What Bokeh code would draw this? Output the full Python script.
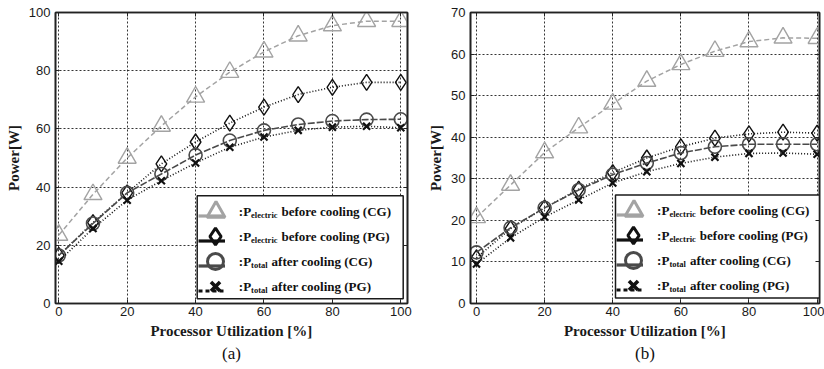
from bokeh.plotting import figure
from bokeh.models import (Range1d, FixedTicker, LinearAxis, Legend, LegendItem,
                          Label, Title, ColumnDataSource, BoxAnnotation)
from bokeh.layouts import row
from bokeh.core.properties import value
from bokeh.embed import file_html
from bokeh.resources import INLINE

# ---------------- data ----------------
util = [0, 10, 20, 30, 40, 50, 60, 70, 80, 90, 100]

a_elec_cg = [23.5, 37.5, 50.0, 61.0, 71.0, 79.5, 86.5, 92.0, 95.5, 97.0, 97.0]
a_elec_pg = [16.5, 27.8, 38.0, 48.0, 55.5, 62.0, 67.5, 71.8, 74.3, 76.0, 76.0]
a_total_cg = [16.5, 27.5, 38.0, 44.5, 51.0, 56.0, 59.5, 61.5, 62.7, 63.2, 63.3]
a_total_pg = [14.5, 25.8, 35.5, 42.2, 48.3, 53.7, 57.2, 59.5, 60.6, 60.9, 60.4]

b_elec_cg = [20.7, 28.5, 36.3, 42.3, 48.0, 53.5, 57.5, 60.7, 63.0, 63.9, 63.8]
b_elec_pg = [11.0, 18.0, 23.0, 27.5, 31.5, 35.0, 37.7, 39.8, 40.8, 41.2, 41.0]
b_total_cg = [12.3, 18.2, 23.0, 27.3, 31.0, 33.8, 36.2, 37.7, 38.3, 38.3, 38.3]
b_total_pg = [9.5, 15.8, 20.8, 24.9, 29.0, 31.7, 33.7, 35.2, 36.1, 36.2, 35.9]

x_ticks = [0, 20, 40, 60, 80, 100]
a_y_ticks = [0, 20, 40, 60, 80, 100]
b_y_ticks = [0, 10, 20, 30, 40, 50, 60, 70]

legend_main = ["before cooling (CG)", "before cooling (PG)",
               "after cooling (CG)", "after cooling (PG)"]
legend_sub = ["electric", "electric", "total", "total"]

# ---------------- styles ----------------
SERIF = "Liberation Serif"
SANS = "Liberation Sans"
C_TRI = "#a3a3a3"
C_DIA = "#111111"
C_CIR = "#4a4a4a"
C_X = "#111111"

series_style = [
    dict(marker="triangle", color=C_TRI, dash="5 3", lw=1.5, size=18, mlw=1.4,
         leg_box=45, leg_dash="solid", leg_mlw=3.0),
    dict(marker="diamond", color=C_DIA, dash="1 2", lw=1.6, size=16, mlw=1.4,
         leg_box=42, leg_dash="solid", leg_mlw=3.0),
    dict(marker="circle", color=C_CIR, dash="7 2", lw=1.6, size=13, mlw=1.6,
         leg_box=40, leg_dash="solid", leg_mlw=3.0),
    dict(marker="x", color=C_X, dash="1 2", lw=1.6, size=10, mlw=2.2,
         leg_box=32, leg_dash="4 3", leg_mlw=3.6),
]


def make_panel(series, y_max, y_ticks, x_start, x_end, width, border_left,
               border_right, tag, box_left, box_bottom):
    p = figure(width=width, height=369, output_backend="svg",
               toolbar_location=None,
               x_range=Range1d(x_start, x_end), y_range=Range1d(0, y_max),
               min_border_left=border_left, min_border_right=border_right,
               min_border_top=12, min_border_bottom=66)
    p.background_fill_color = "white"
    p.border_fill_color = "white"
    p.outline_line_color = "#222222"
    p.outline_line_width = 1.6

    # axes
    for ax in (p.xaxis[0], p.yaxis[0]):
        ax.axis_line_color = "#222222"
        ax.axis_line_width = 1.6
        ax.major_tick_in = 4
        ax.major_tick_out = 0
        ax.minor_tick_line_color = None
        ax.major_tick_line_color = "#222222"
        ax.major_label_text_font = SANS
        ax.major_label_text_font_size = "13px"
        ax.major_label_text_color = "#1a1a1a"
        ax.axis_label_text_font = SERIF
        ax.axis_label_text_font_style = "bold"
        ax.axis_label_text_font_size = "15px"
        ax.axis_label_text_color = "#1a1a1a"
    p.xaxis[0].ticker = FixedTicker(ticks=x_ticks)
    p.yaxis[0].ticker = FixedTicker(ticks=y_ticks)
    p.xaxis[0].axis_label = "Processor Utilization [%]"
    p.yaxis[0].axis_label = "Power[W]"
    p.xaxis[0].major_label_standoff = 3
    p.xaxis[0].axis_label_standoff = 4
    p.yaxis[0].major_label_standoff = 5
    p.yaxis[0].axis_label_standoff = 4

    # box ticks on right/top (no labels)
    for loc, tk in (("right", y_ticks), ("above", x_ticks)):
        ax = LinearAxis(ticker=FixedTicker(ticks=tk))
        ax.major_label_text_font_size = "1px"
        ax.major_label_text_color = None
        ax.major_label_standoff = 0
        ax.axis_label_standoff = 0
        ax.major_tick_in = 4
        ax.major_tick_out = 0
        ax.minor_tick_line_color = None
        ax.axis_line_color = "#222222"
        ax.axis_line_width = 1.6
        ax.major_tick_line_color = "#222222"
        p.add_layout(ax, loc)

    # grid
    p.xgrid.ticker = FixedTicker(ticks=x_ticks)
    p.ygrid.ticker = FixedTicker(ticks=y_ticks)
    for g in (p.xgrid[0], p.ygrid[0]):
        g.grid_line_color = "#111111"
        g.grid_line_dash = "2 2"
        g.grid_line_width = 1
        g.grid_line_alpha = 0.85

    # legend geometry (screen px, relative to the frame's bottom-left)
    box_w, box_h = 206, 103
    box_top = box_bottom + box_h
    row0 = box_top - 16          # centre of the first legend row
    pitch = 25
    glyph_cx = box_left + 18.3

    # white legend panel under the data, above the grid
    p.add_layout(BoxAnnotation(left=box_left, right=box_left + box_w,
                               bottom=box_bottom, top=box_top,
                               left_units="screen", right_units="screen",
                               top_units="screen", bottom_units="screen",
                               fill_color="white", fill_alpha=1.0,
                               line_color="#1a1a1a", line_width=1.5,
                               line_alpha=1.0, level="underlay"))

    # series
    for ys, st in zip(series, series_style):
        src = ColumnDataSource(dict(x=util, y=ys))
        p.line("x", "y", source=src, line_color=st["color"],
               line_width=st["lw"], line_dash=st["dash"])
        p.scatter("x", "y", source=src, marker=st["marker"], size=st["size"],
                  fill_color=None, line_color=st["color"],
                  line_width=st["mlw"])

    # ---- legend line samples (transparent legend) ----
    nan = float("nan")
    pad, gw, gh, sp, n = 4, 27, 21, pitch - 21, 4
    lines_h = 2 * pad + n * gh + (n - 1) * sp
    lines_top = row0 + pad + gh / 2
    line_items = []
    for st in series_style:
        dummy = ColumnDataSource(dict(x=[nan], y=[nan]))
        lr = p.line("x", "y", source=dummy, line_color=st["color"],
                    line_width=3.2, line_dash=st["leg_dash"])
        line_items.append(LegendItem(label=value(" "), renderers=[lr]))
    legend = Legend(items=line_items,
                    location=(glyph_cx - pad - gw / 2, lines_top - lines_h),
                    orientation="vertical", padding=pad, spacing=sp,
                    margin=0, glyph_width=gw, glyph_height=gh,
                    label_height=gh, label_width=0, label_standoff=0,
                    border_line_color=None, background_fill_alpha=0.0,
                    label_text_font_size="1px", label_text_color=None)
    p.add_layout(legend, "center")

    # ---- marker samples: one transparent legend per item (bigger markers) ----
    for i, st in enumerate(series_style):
        yc = row0 - i * pitch
        dummy = ColumnDataSource(dict(x=[nan], y=[nan]))
        sr = p.scatter("x", "y", source=dummy, marker=st["marker"],
                       fill_color=None, line_color=st["color"],
                       line_width=st["leg_mlw"])
        b = st["leg_box"]
        mleg = Legend(items=[LegendItem(label=value(" "), renderers=[sr])],
                      location=(glyph_cx - b / 2, yc - b / 2), padding=0,
                      margin=0, spacing=0, glyph_width=b, glyph_height=b,
                      label_height=b, label_width=0, label_standoff=0,
                      border_line_color=None, background_fill_alpha=0.0,
                      label_text_font_size="1px", label_text_color=None)
        p.add_layout(mleg, "center")

    # ---- legend texts with subscripts ----
    tx = box_left + 41.6
    for i in range(n):
        yc = row0 - i * pitch
        p.add_layout(Label(x=tx, y=yc, x_units="screen", y_units="screen",
                           text=":P", text_font=SERIF,
                           text_font_style="bold", text_font_size="13px",
                           text_baseline="middle", text_color="#111111"))
        sub_w = 26.4 if legend_sub[i] == "electric" else 16.5
        p.add_layout(Label(x=tx + 12.3, y=yc - 3, x_units="screen",
                           y_units="screen", text=legend_sub[i],
                           text_font=SERIF, text_font_style="bold",
                           text_font_size="8.5px", text_baseline="middle",
                           text_color="#111111"))
        p.add_layout(Label(x=tx + 12.3 + sub_w + 4.0, y=yc, x_units="screen",
                           y_units="screen", text=legend_main[i],
                           text_font=SERIF, text_font_style="bold",
                           text_font_size="13px", text_baseline="middle",
                           text_color="#111111"))

    p.add_layout(Title(text=tag, align="center", text_font=SERIF,
                       text_font_style="normal", text_font_size="17px",
                       text_color="#111111", standoff=0, offset=0), "below")
    return p


pa = make_panel([a_elec_cg, a_elec_pg, a_total_cg, a_total_pg], 100, a_y_ticks,
                -0.96, 101.96, 412, 55, 5, "(a)", 141.7, 4.7)
pb = make_panel([b_elec_cg, b_elec_pg, b_total_cg, b_total_pg], 70, b_y_ticks,
                -1.76, 100.7, 412, 58, 5, "(b)", 145.0, 5.6)

layout = row(pa, pb, spacing=0)
open("out.html", "w").write(file_html(layout, INLINE))
